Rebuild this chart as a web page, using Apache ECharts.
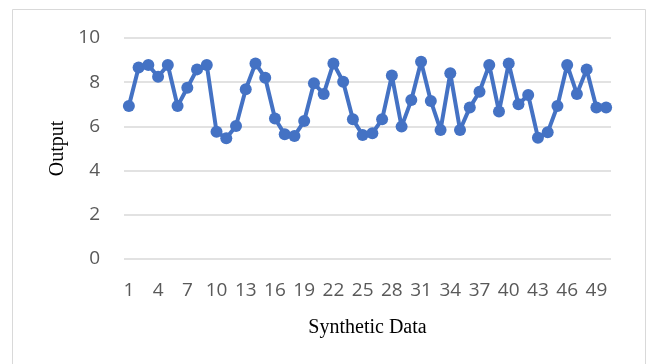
<!DOCTYPE html>
<html>
<head>
<meta charset="utf-8">
<script src="https://cdn.jsdelivr.net/npm/echarts@6/dist/echarts.min.js"></script>
<style>
  html, body { margin: 0; padding: 0; background: #ffffff; }
  #chart { width: 650px; height: 364px; }
</style>
</head>
<body>
<div id="chart"></div>
<script>
// Sample index 1..50 along the x axis
const categories = [];
for (let i = 1; i <= 50; i++) categories.push(String(i));

// Output values per sample
const outputValues = [
  6.92, 8.66, 8.78, 8.25, 8.78, 6.92, 7.75, 8.58, 8.78, 5.76,
  5.46, 6.02, 7.68, 8.85, 8.20, 6.36, 5.64, 5.57, 6.24, 7.95,
  7.47, 8.85, 8.02, 6.32, 5.61, 5.69, 6.32, 8.30, 5.99, 7.19,
  8.93, 7.15, 5.84, 8.40, 5.84, 6.85, 7.57, 8.78, 6.67, 8.85,
  7.00, 7.42, 5.49, 5.73, 6.92, 8.78, 7.47, 8.58, 6.85, 6.85
];

const yTicks = { min: 0, max: 10, interval: 2 };

const chart = echarts.init(document.getElementById('chart'), null, { renderer: 'canvas' });

chart.setOption({
  backgroundColor: '#ffffff',
  animation: false,
  graphic: [{
    type: 'rect',
    shape: { x: 12.5, y: 9.5, width: 633, height: 370 },
    style: { fill: 'none', stroke: '#d9d9d9', lineWidth: 1 }
  }],
  grid: { left: 124, right: 39, top: 38, bottom: 105, containLabel: false },
  xAxis: {
    type: 'category',
    data: categories,
    boundaryGap: true,
    name: 'Synthetic Data',
    nameLocation: 'middle',
    nameGap: 59,
    nameTextStyle: { fontFamily: 'Liberation Serif', fontSize: 20, color: '#000000' },
    axisLine: { show: false },
    axisTick: { show: false },
    axisLabel: {
      interval: 2,
      margin: 22,
      fontFamily: 'Open Sans',
      fontSize: 19,
      color: '#595959'
    },
    splitLine: { show: false }
  },
  yAxis: {
    type: 'value',
    min: yTicks.min,
    max: yTicks.max,
    interval: yTicks.interval,
    name: 'Output',
    nameLocation: 'middle',
    nameGap: 56,
    nameRotate: 90,
    nameTextStyle: { fontFamily: 'Liberation Serif', fontSize: 20, color: '#000000' },
    axisLine: { show: false },
    axisTick: { show: false },
    axisLabel: {
      margin: 24,
      fontFamily: 'Open Sans',
      fontSize: 19,
      color: '#595959'
    },
    splitLine: { lineStyle: { color: '#d9d9d9', width: 1.5 } }
  },
  series: [{
    type: 'line',
    data: outputValues,
    symbol: 'circle',
    symbolSize: 12,
    showSymbol: true,
    showAllSymbol: true,
    itemStyle: { color: '#4472c4' },
    lineStyle: { color: '#4472c4', width: 4 }
  }]
});
</script>
</body>
</html>
